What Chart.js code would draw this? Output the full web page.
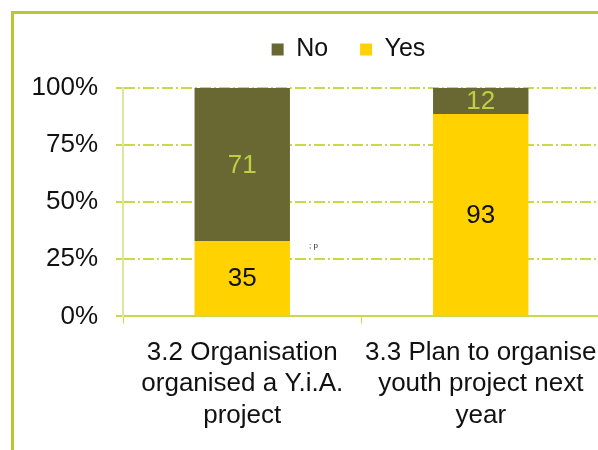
<!DOCTYPE html>
<html>
<head>
<meta charset="utf-8">
<script src="https://cdn.jsdelivr.net/npm/chart.js@4"></script>
<style>
    body { margin: 0; background: #fff; }
    #wrap { position: relative; width: 598px; height: 450px; overflow: hidden; }
    #frame {
        position: absolute; left: 11px; top: 11px; width: 700px; height: 600px;
        border-left: 3px solid #b7c92f; border-top: 3px solid #b7c92f;
    }
    #box { position: absolute; left: 0; top: 0; width: 640px; height: 450px; }
    #stray { position: absolute; left: 309px; top: 241px; font: 8px Arial, sans-serif; color: #222; }
</style>
</head>
<body>
<div id="wrap">
    <div id="frame"></div>
    <div id="box"><canvas id="survey-chart" width="640" height="450"></canvas></div>
    <span id="stray">; p</span>
</div>
<script>
const categories = [
    ['3.2 Organisation', 'organised a Y.i.A.', 'project'],
    ['3.3 Plan to organise', 'youth project next', 'year']
];
const yesCounts = [35, 93];
const noCounts = [71, 12];
const yTicks = [0, 25, 50, 75, 100];

const lime = '#c8d94a';
const fontFamily = 'Arial, "Liberation Sans", sans-serif';

function toPercent(part, other) {
    return part.map(function (v, i) { return v / (v + other[i]) * 100; });
}

/* labels with the raw counts in the middle of each segment */
const countLabels = {
    id: 'countLabels',
    afterDatasetsDraw(chart) {
        const ctx = chart.ctx;
        ctx.save();
        ctx.font = '26px ' + fontFamily;
        ctx.textAlign = 'center';
        ctx.textBaseline = 'middle';
        chart.data.datasets.forEach(function (ds, di) {
            chart.getDatasetMeta(di).data.forEach(function (bar, i) {
                const mid = (bar.y + bar.base) / 2;
                ctx.fillStyle = ds.countColor;
                ctx.fillText(ds.counts[i], bar.x, mid + 1);
            });
        });
        ctx.restore();
    }
};

/* legend sits right of centre and has more room under it */
const legendShift = {
    id: 'legendShift',
    beforeInit(chart) {
        const fit = chart.legend.fit;
        chart.legend.fit = function () {
            fit.bind(chart.legend)();
            this.height += 16;
        };
    },
    afterLayout(chart) {
        chart.legend.left = 97;
    }
};

const ctx = document.getElementById('survey-chart').getContext('2d');
const surveyChart = new Chart(ctx, {
    type: 'bar',
    data: {
        labels: categories,
        datasets: [{
            label: 'Yes',
            data: toPercent(yesCounts, noCounts),
            counts: yesCounts,
            countColor: '#111',
            backgroundColor: '#ffd200'
        }, {
            label: 'No',
            data: toPercent(noCounts, yesCounts),
            counts: noCounts,
            countColor: '#bccf45',
            backgroundColor: '#6a6832'
        }]
    },
    options: {
        responsive: false,
        animation: false,
        maintainAspectRatio: false,
        layout: { padding: { top: 5, right: 40, left: 0, bottom: 5 } },
        datasets: { bar: { categoryPercentage: 1, barPercentage: 0.4 } },
        plugins: {
            tooltip: { enabled: false },
            legend: {
                reverse: true,
                labels: {
                    color: '#111',
                    font: { family: fontFamily, size: 25 },
                    boxWidth: 12,
                    boxHeight: 12,
                    padding: 32
                }
            }
        },
        scales: {
            x: {
                stacked: true,
                grid: { drawOnChartArea: false, color: lime, tickLength: 7, offset: true },
                border: { color: lime, width: 2 },
                ticks: {
                    color: '#111',
                    padding: 14,
                    maxRotation: 0,
                    autoSkip: false,
                    font: { family: fontFamily, size: 26, lineHeight: 1.2 }
                }
            },
            y: {
                stacked: true,
                min: 0,
                max: 100,
                afterFit(scale) { scale.width = 123; },
                afterBuildTicks(scale) { scale.ticks = yTicks.map(function (v) { return { value: v }; }); },
                grid: {
                    color: lime,
                    lineWidth: 2,
                    tickLength: 7,
                    tickBorderDash: []
                },
                border: { color: '#dde79a', width: 2, dash: [11, 3, 2, 3] },
                ticks: {
                    color: '#111',
                    padding: 18,
                    font: { family: fontFamily, size: 26 },
                    callback: function (v) { return v + '%'; }
                }
            }
        }
    },
    plugins: [countLabels, legendShift]
});
</script>
</body>
</html>
